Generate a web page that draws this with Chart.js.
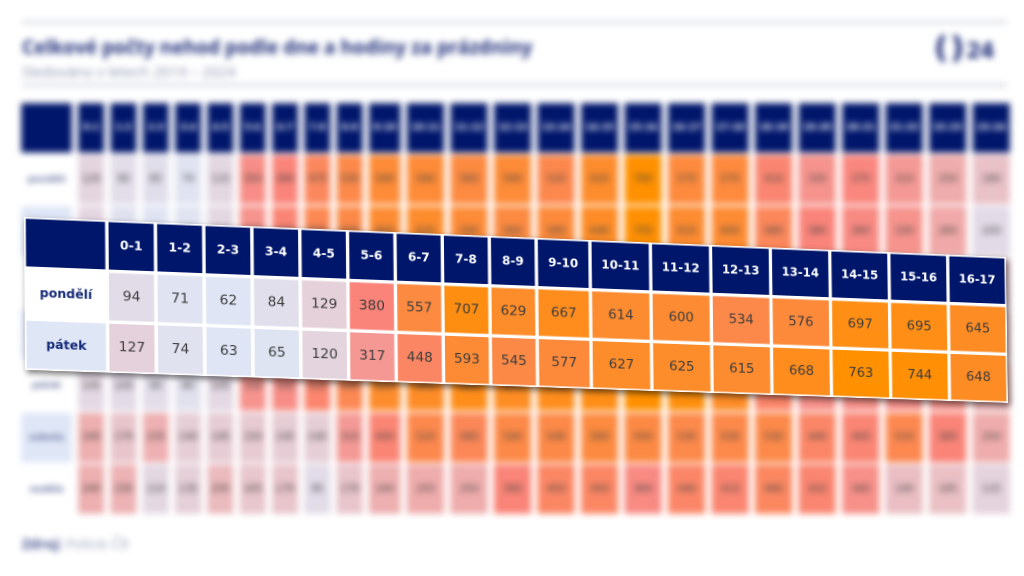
<!DOCTYPE html>
<html lang="cs">
<head>
<meta charset="utf-8">
<title>Celkové počty nehod podle dne a hodiny za prázdniny</title>
<script src="https://cdn.jsdelivr.net/npm/chart.js@4/dist/chart.umd.min.js"></script>
<style>
    html, body { margin: 0; padding: 0; background: #fff; width: 1024px; height: 576px; overflow: hidden; font-family: "DejaVu Sans", sans-serif; }
    #back { position: absolute; left: 0; top: 0; width: 1024px; height: 576px; filter: blur(3px); }
    #back div { position: absolute; white-space: nowrap; }
    .rule { left: 22px; width: 985px; height: 4px; background: #e0e2e8; }
    #title { left: 22px; top: 34px; font: bold 19.1px "Open Sans", sans-serif; color: #1f2f7a; }
    #subtitle { left: 22px; top: 61px; font: 14.7px "Open Sans", sans-serif; color: #8d93b0; }
    #logo { left: 934px; top: 29px; font: bold 21px "DejaVu Sans", sans-serif; color: #1b2b78; letter-spacing: -1px; }
    #logo span { font-size: 31px; font-weight: bold; letter-spacing: 2px; }
    #source { left: 22px; top: 534px; font: 14px "Open Sans", sans-serif; color: #a0a6bf; }
    #source b { color: #4a5692; }
    #backChart { position: absolute; left: 18px; top: 102px; }
    #front { position: absolute; left: 0; top: 0; filter: drop-shadow(2px 3px 3px rgba(0,0,0,.55)); }
    #frontChart { position: absolute; left: 0; top: 0; background: #fff; transform-origin: 0 0; }
</style>
</head>
<body>
<div id="back">
    <div class="rule" style="top:20px"></div>
    <div class="rule" style="top:83px"></div>
    <div id="title">Celkové počty nehod podle dne a hodiny za prázdniny</div>
    <div id="subtitle">Sledováno v letech 2019 – 2024</div>
    <div id="logo"><span>()</span>24</div>
    <div id="source"><b>Zdroj:</b> Policie ČR</div>
    <canvas id="backChart"></canvas>
</div>
<div id="front"><canvas id="frontChart"></canvas></div>

<script>
    // Full table behind the strip (blurred in the picture, values estimated)
    const hourLabels = ['0-1','1-2','2-3','3-4','4-5','5-6','6-7','7-8','8-9','9-10','10-11','11-12','12-13','13-14','14-15','15-16','16-17','17-18','18-19','19-20','20-21','21-22','22-23','23-24'];
    const dayLabels = ['pondělí','úterý','středa','čtvrtek','pátek','sobota','neděle'];
    const pondeliAll = [120,90,85,70,110,350,380,470,530,590,590,560,590,520,620,760,570,570,410,330,370,310,250,180];
    const uteryAll = [115,75,65,70,110,330,400,500,540,600,620,590,560,580,640,750,610,600,480,380,360,330,260,100];
    const stredaAll = [90,70,65,75,115,340,420,500,560,590,600,600,570,590,620,650,620,580,480,380,350,320,260,150];
    const ctvrtekAll = [100,80,70,70,110,350,430,520,570,610,630,620,600,610,640,690,640,590,490,370,360,340,270,170];
    const patekAll = [105,100,90,80,105,330,350,420,500,620,640,680,650,670,690,760,720,640,430,340,340,340,330,230];
    const sobotaAll = [240,170,235,140,145,150,145,140,310,400,520,490,540,540,560,550,530,530,530,440,400,510,385,250];
    const nedeleAll = [240,230,110,135,205,165,170,95,170,240,250,250,390,450,450,360,440,410,460,410,340,190,185,125];
    const allRows = [pondeliAll, uteryAll, stredaAll, ctvrtekAll, patekAll, sobotaAll, nedeleAll];

    // Sharp strip in front
    const stripHours = ['0-1','1-2','2-3','3-4','4-5','5-6','6-7','7-8','8-9','9-10','10-11','11-12','12-13','13-14','14-15','15-16','16-17'];
    const stripDays = ['pondělí','pátek'];
    const stripPondeli = [94,71,62,84,129,380,557,707,629,667,614,600,534,576,697,695,645];
    const stripPatek = [127,74,63,65,120,317,448,593,545,577,627,625,615,668,763,744,648];
    const stripRows = [stripPondeli, stripPatek];

    const navy = '#00166b';
    const paleBlue = '#dfe6f6';

    function mix(a, b, t) {
        return a.map((c, i) => Math.round(c + (b[i] - c) * t));
    }

    // Heat colour: pale blue, then salmon, then orange
    function heatColor(value) {
        const low = [223, 230, 245], mid = [250, 132, 122], high = [255, 144, 0];
        const c = value < 380
            ? mix(low, mid, Math.max(0, value - 60) / 320)
            : mix(mid, high, Math.min(1, (value - 380) / 380));
        return `rgb(${c[0]},${c[1]},${c[2]})`;
    }

    // Cell text goes through the bar elements, so it follows the scales
    const cellText = {
        id: 'cellText',
        afterDatasetsDraw(chart) {
            const ctx = chart.ctx;
            ctx.save();
            ctx.textAlign = 'center';
            ctx.textBaseline = 'middle';
            chart.data.datasets.forEach((ds, d) => {
                chart.getDatasetMeta(d).data.forEach((bar, r) => {
                    if (!ds.texts[r]) return;
                    ctx.font = ds.fonts[r];
                    ctx.fillStyle = ds.textColors[r];
                    ctx.fillText(ds.texts[r], (bar.x + bar.base) / 2, bar.y);
                });
            });
            ctx.restore();
        }
    };

    // One dataset per table column, one bar per table row (header row first).
    // Column widths follow the length of the header text, like an auto table.
    function tableChart(canvasId, size, hours, days, rows, look) {
        const rowNames = [''].concat(days);
        const columns = [{ name: '', width: look.firstWidth }].concat(hours.map(h => ({ name: h, width: look.pad + look.perChar * h.length })));
        let edge = 0;
        const datasets = columns.map((col, c) => {
            const span = [edge, edge + col.width];
            edge += col.width;
            const isFirst = c === 0;
            return {
                label: col.name,
                grouped: false,
                data: rowNames.map(() => span),
                backgroundColor: rowNames.map((name, r) => {
                    if (r === 0) return navy;
                    if (isFirst) return r % 2 === 0 ? paleBlue : '#ffffff';
                    return heatColor(rows[r - 1][c - 1]);
                }),
                borderColor: '#ffffff',
                borderWidth: look.border,
                borderSkipped: false,
                texts: rowNames.map((name, r) => {
                    if (isFirst) return name;
                    return r === 0 ? col.name : String(rows[r - 1][c - 1]);
                }),
                fonts: rowNames.map((name, r) => isFirst || r === 0 ? look.boldFont : look.valueFont),
                textColors: rowNames.map((name, r) => {
                    if (r === 0) return '#ffffff';
                    return isFirst ? look.dayColor : look.valueColor;
                })
            };
        });

        const canvas = document.getElementById(canvasId);
        canvas.style.width = size.width + 'px';
        canvas.style.height = size.height + 'px';
        canvas.width = size.width;
        canvas.height = size.height;
        return new Chart(canvas, {
            type: 'bar',
            data: { labels: rowNames, datasets: datasets },
            plugins: [cellText],
            options: {
                indexAxis: 'y',
                responsive: false,
                animation: false,
                devicePixelRatio: look.ratio,
                barPercentage: 1,
                categoryPercentage: 1,
                layout: { padding: 0 },
                plugins: { legend: { display: false }, tooltip: { enabled: false } },
                scales: {
                    x: { display: false, min: 0, max: edge },
                    y: { display: false }
                }
            }
        });
    }

    // Table behind
    tableChart('backChart', { width: 995, height: 413 }, hourLabels, dayLabels, allRows, {
        firstWidth: 57, pad: 15.5, perChar: 5.6,
        border: { left: 3.5, right: 3.5, top: 1.5, bottom: 1.5 },
        boldFont: 'bold 9px "DejaVu Sans"', valueFont: '10px "DejaVu Sans"',
        dayColor: '#626e9e', valueColor: '#444', ratio: 1
    });

    // Strip in front
    const stripSize = { width: 983, height: 152 };
    tableChart('frontChart', stripSize, stripHours, stripDays, stripRows, {
        firstWidth: 75, pad: 24.05, perChar: 6.75,
        border: 2,
        boldFont: 'bold 12px "DejaVu Sans"', valueFont: '13.5px "DejaVu Sans"',
        dayColor: '#152a78', valueColor: '#3d3d3d', ratio: 2
    });

    // Corners of the strip on the page: top left, top right, bottom right, bottom left
    const stripCorners = [[24, 217], [1006, 257], [1008, 403], [25, 370]];

    function quadMatrix(w, h, q) {
        const [x0, y0] = q[0], [x1, y1] = q[1], [x2, y2] = q[2], [x3, y3] = q[3];
        const dx1 = x1 - x2, dx2 = x3 - x2, sx = x0 - x1 + x2 - x3;
        const dy1 = y1 - y2, dy2 = y3 - y2, sy = y0 - y1 + y2 - y3;
        const den = dx1 * dy2 - dx2 * dy1;
        const g = (sx * dy2 - dx2 * sy) / den;
        const k = (dx1 * sy - sx * dy1) / den;
        const a = x1 - x0 + g * x1, b = x3 - x0 + k * x3;
        const d = y1 - y0 + g * y1, e = y3 - y0 + k * y3;
        return `matrix3d(${a / w},${d / w},0,${g / w},${b / h},${e / h},0,${k / h},0,0,1,0,${x0},${y0},0,1)`;
    }
    document.getElementById('frontChart').style.transform = quadMatrix(stripSize.width, stripSize.height, stripCorners);
</script>
</body>
</html>
